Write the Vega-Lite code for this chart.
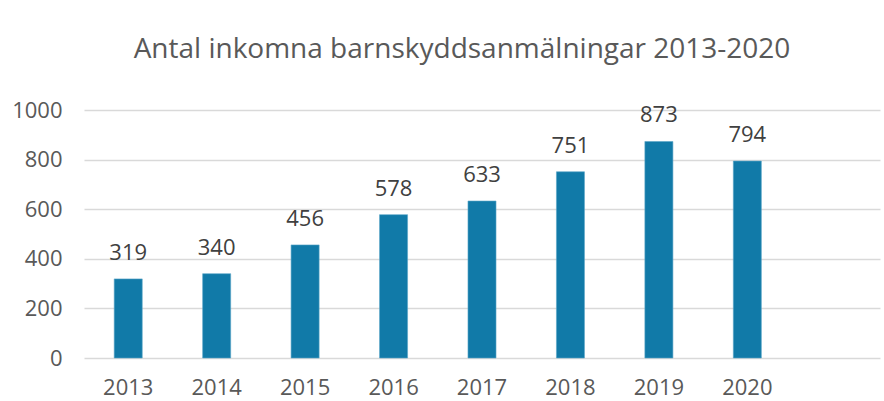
{
  "$schema": "https://vega.github.io/schema/vega-lite/v6.json",
  "width": 796,
  "height": 248,
  "autosize": {"type": "none"},
  "padding": {"left": 84, "top": 110, "right": 4, "bottom": 43},
  "background": "white",
  "data": {"values": [
    {"year": "2013", "count": 319},
    {"year": "2014", "count": 340},
    {"year": "2015", "count": 456},
    {"year": "2016", "count": 578},
    {"year": "2017", "count": 633},
    {"year": "2018", "count": 751},
    {"year": "2019", "count": 873},
    {"year": "2020", "count": 794}
  ]},
  "title": {
    "text": "Antal inkomna barnskyddsanmälningar 2013-2020",
    "font": "Open Sans",
    "fontSize": 28,
    "fontWeight": "normal",
    "color": "#595959",
    "anchor": "middle",
    "dx": -20,
    "offset": 35
  },
  "config": {
    "view": {"stroke": null},
    "axis": {"labelFont": "Open Sans", "labelFontSize": 22, "labelColor": "#595959"}
  },
  "layer": [
    {
      "mark": {"type": "bar", "color": "#117AA8", "stroke": "#5aa6c8", "strokeWidth": 0.6},
      "encoding": {
        "x": {
          "field": "year", "type": "nominal",
          "scale": {"domain": ["2013","2014","2015","2016","2017","2018","2019","2020"," "], "paddingInner": 0.683, "paddingOuter": 0.3415},
          "axis": {"title": null, "labelAngle": 0, "ticks": false, "domain": false, "grid": false, "labelPadding": 19}
        },
        "y": {
          "field": "count", "type": "quantitative",
          "scale": {"domain": [0, 1000]},
          "axis": {"title": null, "values": [0,200,400,600,800,1000], "format": "d", "ticks": false, "domain": false, "gridColor": "#d9d9d9", "gridWidth": 1.5, "labelPadding": 22}
        }
      }
    },
    {
      "mark": {"type": "text", "font": "Open Sans", "fontSize": 22, "color": "#404040", "baseline": "bottom", "dy": -14},
      "encoding": {
        "x": {"field": "year", "type": "nominal", "scale": {"domain": ["2013","2014","2015","2016","2017","2018","2019","2020"," "]}},
        "y": {"field": "count", "type": "quantitative"},
        "text": {"field": "count", "type": "quantitative"}
      }
    }
  ]
}
